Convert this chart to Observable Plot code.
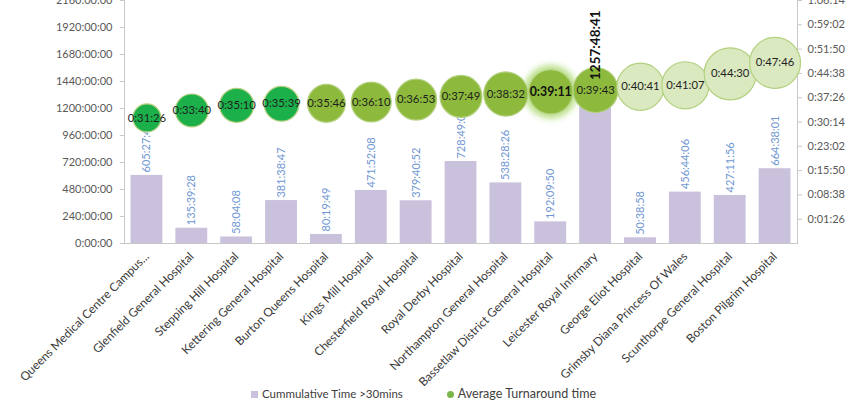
<!DOCTYPE html>
<html>
<head>
<meta charset="utf-8">
<script src="https://cdn.jsdelivr.net/npm/d3@7"></script>
<script src="https://cdn.jsdelivr.net/npm/@observablehq/plot@0.6"></script>
<style>
  body { margin: 0; background: #fff; font-family: Lato, "Open Sans", sans-serif; }
  #wrap { position: relative; width: 859px; height: 405px; overflow: hidden; }
  .legend { position: absolute; top: 387px; left: 251px; font-size: 11.5px; color: #404040;
            display: flex; align-items: center; white-space: nowrap; line-height: 14px; }
  .sw { display: inline-block; width: 7px; height: 7px; margin-right: 4px; }
  .glow { filter: blur(3px); }
</style>
</head>
<body>
<div id="wrap"></div>
<script>
// ---- data ----
const hospitals = [
  "Queens Medical Centre Campus...", "Glenfield General Hospital", "Stepping Hill Hospital",
  "Kettering General Hospital", "Burton Queens Hospital", "Kings Mill Hospital",
  "Chesterfield Royal Hospital", "Royal Derby Hospital", "Northampton General Hospital",
  "Bassetlaw District General Hospital", "Leicester Royal Infirmary", "George Eliot Hospital",
  "Grimsby Diana Princess Of Wales", "Scunthorpe General Hospital", "Boston Pilgrim Hospital"
];
const cumulativeTime = [
  "605:27:48", "135:39:28", "58:04:08", "381:38:47", "80:19:49", "471:52:08", "379:40:52",
  "728:49:03", "538:28:26", "192:09:50", "1257:48:41", "50:38:58", "456:44:06", "427:11:56", "664:38:01"
];
const avgTurnaround = [
  "0:31:26", "0:33:40", "0:35:10", "0:35:39", "0:35:46", "0:36:10", "0:36:53",
  "0:37:49", "0:38:32", "0:39:11", "0:39:43", "0:40:41", "0:41:07", "0:44:30", "0:47:46"
];
// relative bubble size (third bubble variable, arbitrary units)
const bubbleSize = [29, 40, 43, 45, 53, 59, 62, 65, 72, 72, 75, 82, 82, 100, 96];
const highlighted = "Bassetlaw District General Hospital";

const leftTicks = ["0:00:00", "240:00:00", "480:00:00", "720:00:00", "960:00:00",
  "1200:00:00", "1440:00:00", "1680:00:00", "1920:00:00", "2160:00:00"];
const rightTicks = ["0:01:26", "0:08:38", "0:15:50", "0:23:02", "0:30:14",
  "0:37:26", "0:44:38", "0:51:50", "0:59:02", "1:06:14"];
const leftAxisMax = 2160;          // hours
const rightAxisMin = -345.6;       // seconds (-0.004 day)
const rightAxisMax = 3974.4;       // seconds (0.046 day)
const legendLabels = ["Cummulative Time >30mins", "Average Turnaround time"];

// ---- helpers ----
const toSec = s => { const [h, m, x] = s.split(":").map(Number); return h * 3600 + m * 60 + x; };
const rightToLeft = s => (s - rightAxisMin) / (rightAxisMax - rightAxisMin) * leftAxisMax;

const rows = hospitals.map((h, i) => ({
  hospital: h,
  hours: toSec(cumulativeTime[i]) / 3600,
  cumLabel: cumulativeTime[i],
  avgSec: toSec(avgTurnaround[i]),
  avgPos: rightToLeft(toSec(avgTurnaround[i])),
  avgLabel: avgTurnaround[i],
  size: bubbleSize[i]
}));
const peak = rows.reduce((a, b) => (b.hours > a.hours ? b : a));

const leftTickVals = leftTicks.map(t => toSec(t) / 3600);
const rightTickVals = rightTicks.map(t => rightToLeft(toSec(t)));
const rightLabelOf = new Map(rightTickVals.map((v, i) => [v, rightTicks[i]]));
const leftLabelOf = new Map(leftTickVals.map((v, i) => [v, leftTicks[i]]));

const barFill = "#cac1dd";
const axisGrey = "#c8c8c8";

const chart = Plot.plot({
  width: 859, height: 405,
  marginLeft: 124, marginRight: 62, marginTop: 0, marginBottom: 162,
  style: { fontFamily: "Lato, 'Open Sans', sans-serif", fontSize: "11px", background: "transparent", overflow: "visible" },
  x: { type: "band", domain: hospitals, paddingInner: 0.29, paddingOuter: 0.145, round: false, axis: null },
  y: { domain: [0, leftAxisMax], axis: null },
  r: { type: "sqrt", domain: [0, 100], range: [0, 26] },
  color: { type: "threshold", domain: [2140, 2400], range: ["#1cb04b", "#8dba3c", "#dae9c0"] },
  marks: [
    Plot.barY(rows, { x: "hospital", y: "hours", fill: barFill }),
    Plot.ruleY([0], { stroke: axisGrey }),
    Plot.frame({ anchor: "left", stroke: axisGrey }),
    Plot.frame({ anchor: "right", stroke: axisGrey }),
    Plot.axisY({ anchor: "left", ticks: leftTickVals, tickFormat: d => leftLabelOf.get(d),
      tickSize: 4, tickPadding: 8, stroke: axisGrey, fill: "#595959", fontSize: 11, label: null }),
    Plot.axisY({ anchor: "right", ticks: rightTickVals, tickFormat: d => rightLabelOf.get(d),
      tickSize: 4, tickPadding: 6, stroke: axisGrey, fill: "#595959", fontSize: 11, label: null }),
    Plot.axisX({ tickRotate: -45, tickSize: 0, tickPadding: 11, fill: "#3a3a3a", fontSize: 11.9, label: null }),
    Plot.text(rows.filter(d => d !== peak), { x: "hospital", y: "hours", text: "cumLabel",
      rotate: -90, textAnchor: "start", dy: -3, fill: "#7097d3", fontSize: 11 }),
    Plot.dot(rows.filter(d => d.hospital === highlighted), { x: "hospital", y: "avgPos", r: "size",
      fill: "none", stroke: "#9fd35a", strokeWidth: 9, strokeOpacity: 0.75, className: "glow" }),
    Plot.dot(rows, { x: "hospital", y: "avgPos", r: "size", fill: "avgSec",
      stroke: "#b3d07f", strokeWidth: 1.2, sort: null }),
    Plot.text(rows.filter(d => d.hospital !== highlighted), { x: "hospital", y: "avgPos", text: "avgLabel",
      fill: "#1e1e1e", fontSize: 11.3 }),
    Plot.text(rows.filter(d => d.hospital === highlighted), { x: "hospital", y: "avgPos", text: "avgLabel",
      fill: "#111", fontSize: 12.3, fontWeight: "bold" }),
    Plot.text([peak], { x: "hospital", y: "hours", text: "cumLabel",
      rotate: -90, textAnchor: "start", dy: -22, fill: "#111", fontSize: 13.5, fontWeight: "bold" })
  ]
});

const wrap = document.getElementById("wrap");
wrap.appendChild(chart);

const legend = document.createElement("div");
legend.className = "legend";
legend.innerHTML =
  `<span class="sw" style="background:${barFill}"></span><span>${legendLabels[0]}</span>` +
  `<span class="sw" style="background:#7ab648;border-radius:50%;margin-left:44px"></span><span style="font-size:12.5px">${legendLabels[1]}</span>`;
wrap.appendChild(legend);
</script>
</body>
</html>
